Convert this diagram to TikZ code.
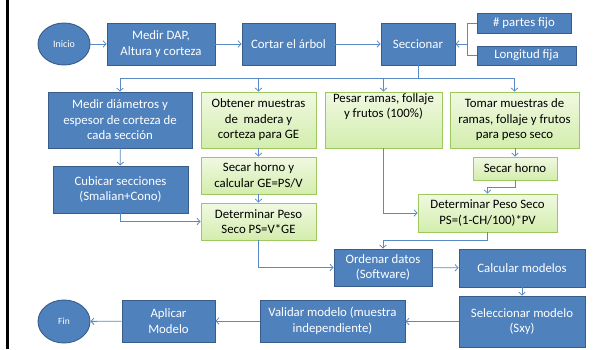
\documentclass[tikz,border=0pt]{standalone}
\usepackage{fontspec}
\setmainfont{Carlito}
\usetikzlibrary{shapes.geometric,arrows.meta}
\definecolor{bluefill}{HTML}{4F81BD}
\definecolor{blueedge}{HTML}{385D8A}
\definecolor{greentop}{HTML}{F0F9E2}
\definecolor{greenbot}{HTML}{D3EDAD}
\definecolor{greenedge}{HTML}{9CC85E}
\definecolor{linkblue}{HTML}{5A8AC6}
\tikzset{
  bluebox/.style={rectangle, draw=blueedge, fill=bluefill, line width=0.9pt,
    text=white, align=center, inner sep=0pt,
    font=\fontsize{12.8}{15.5}\selectfont},
  greenbox/.style={rectangle, draw=greenedge, top color=greentop, bottom color=greenbot,
    line width=0.9pt, text=black, align=center, inner sep=0pt,
    font=\fontsize{12.8}{15.5}\selectfont},
  terminal/.style={ellipse, draw=blueedge, fill=bluefill, line width=0.9pt,
    text=white, inner sep=0pt, minimum width=52pt, minimum height=42pt},
  link/.style={draw=linkblue, line width=0.8pt},
  arr/.style={link, -{Straight Barb[length=3pt,width=6.5pt]}},
}
\begin{document}
\begin{tikzpicture}[x=1pt,y=-1pt]
\useasboundingbox (0,0) rectangle (594,349);
\fill[white] (0,0) rectangle (594,349);
% left frame rule
\draw[black, line width=2.5pt] (7.5,0) -- (7.5,349);

% top row
\node[terminal, font=\fontsize{10}{12}\selectfont] (inicio) at (64,44) {Inicio};
\node[bluebox, minimum width=108pt, minimum height=42pt] (dap) at (161,44) {Medir DAP,\\Altura y corteza};
\node[bluebox, minimum width=93pt, minimum height=42pt] (cortar) at (288.5,44) {Cortar el árbol};
\node[bluebox, minimum width=74pt, minimum height=42pt] (secc) at (418,44) {Seccionar};
\node[bluebox, minimum width=94pt, minimum height=20pt] (partes) at (524,23) {\# partes fijo};
\node[bluebox, minimum width=99pt, minimum height=19pt] (longitud) at (526.5,55.5) {Longitud fija};

% second row
\node[bluebox, minimum width=144pt, minimum height=56pt] (mdiam) at (120,120) {Medir diámetros y\\espesor de corteza de\\cada sección};
\node[greenbox, minimum width=115pt, minimum height=56pt] (obtener) at (258.5,120) {Obtener muestras\\de\ \ madera y\\corteza para GE};
\node[greenbox, minimum width=117pt, minimum height=56pt] (pesar) at (383.5,120) {Pesar ramas, follaje\\y frutos (100\%)\\[13pt]};
\node[greenbox, minimum width=129pt, minimum height=56pt] (tomar) at (514.5,120) {Tomar muestras de\\ramas, follaje y frutos\\para peso seco};

% third row
\node[bluebox, minimum width=135pt, minimum height=47pt] (cubicar) at (120.5,189.5) {Cubicar secciones\\(Smalian+Cono)};
\node[greenbox, minimum width=115pt, minimum height=37pt] (secar1) at (258.5,175.5) {Secar horno y\\calcular GE=PS/V};
\node[greenbox, minimum width=84pt, minimum height=23pt] (secar2) at (515,168.5) {Secar horno};
\node[greenbox, minimum width=115pt, minimum height=37pt] (det1) at (258.5,221.5) {Determinar Peso\\Seco PS=V*GE};
\node[greenbox, minimum width=139pt, minimum height=38pt] (det2) at (487.5,213) {Determinar Peso Seco\\PS=(1-CH/100)*PV};

% lower rows
\node[bluebox, minimum width=98pt, minimum height=37pt] (ordenar) at (383,267.5) {Ordenar datos\\(Software)};
\node[bluebox, minimum width=126pt, minimum height=38pt] (calcular) at (522,268) {Calcular modelos};
\node[bluebox, minimum width=126pt, minimum height=51pt] (selecc) at (522,321.5) {Seleccionar modelo\\(Sxy)};
\node[bluebox, minimum width=145pt, minimum height=42pt] (validar) at (332.5,321) {Validar modelo (muestra\\independiente)};
\node[bluebox, minimum width=93pt, minimum height=42pt] (aplicar) at (168.5,321) {Aplicar\\Modelo};
\node[terminal, font=\fontsize{9.5}{11}\selectfont, minimum height=43pt] (fin) at (64,321.5) {Fin};

% connectors, top row
\draw[arr] (inicio) -- (dap);
\draw[arr] (dap) -- (cortar);
\draw[arr] (cortar) -- (secc);
\coordinate (br) at (467,44);
\draw[link] (partes.west) -| (br);
\draw[link] (longitud.west) -| (br);
\draw[arr] (br) -- (secc.east);

% distribution bus below Seccionar
\coordinate (bus) at (418,78);
\draw[link] (secc.south) -- (bus);
\draw[arr] (bus) -| (mdiam.north);
\draw[arr] (bus) -| (obtener.north);
\draw[arr] (bus) -| (pesar.north);
\draw[arr] (bus) -| (tomar.north);

% stem and branch flows
\draw[arr] (mdiam) -- (cubicar);
\draw[arr] (cubicar.south) |- (det1.west);
\draw[arr] (obtener) -- (secar1);
\draw[arr] (secar1) -- (det1);
\draw[arr] (det1.south) |- (ordenar.west);
\draw[arr] (pesar.south) |- (det2.west);
\draw[arr] (tomar.south -| secar2.north) -- (secar2.north);
\draw[arr] (secar2.south) -- ++(0,7) -| (det2.north);
\draw[arr] (det2.south) -- ++(0,8) -| (ordenar.north);

% modelling sequence
\draw[arr] (ordenar) -- (calcular);
\draw[arr] (calcular) -- (selecc);
\draw[arr] (selecc.west) -- (validar.east |- selecc.west);
\draw[arr] (validar) -- (aplicar);
\draw[arr] (aplicar) -- (fin);
\end{tikzpicture}
\end{document}
